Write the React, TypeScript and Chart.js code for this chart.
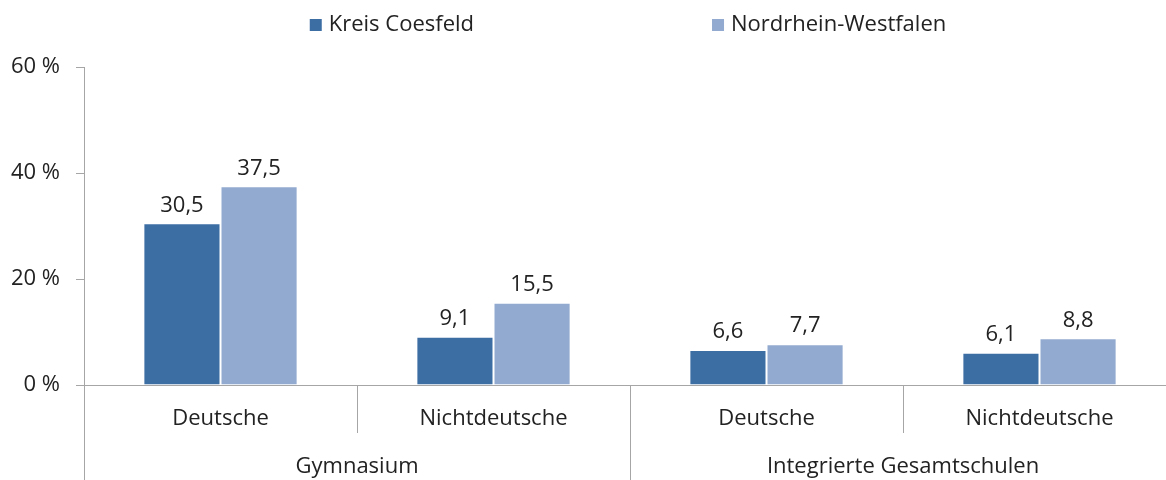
import React, { useEffect, useRef } from "react";
import { Chart, registerables } from "chart.js";

Chart.register(...registerables);

const categories = ["Deutsche", "Nichtdeutsche", "Deutsche", "Nichtdeutsche"];
const groups = ["Gymnasium", "Integrierte Gesamtschulen"];
const seriesNames = ["Kreis Coesfeld", "Nordrhein-Westfalen"];
const kreisValues = [30.5, 9.1, 6.6, 6.1];
const nrwValues = [37.5, 15.5, 7.7, 8.8];
const yTickValues = [0, 20, 40, 60];

const COLORS = ["#3C6EA4", "#92AACF"];
const AXIS = "#A6A6A6";
const TEXT = "#222222";
const FONT = "'Open Sans', sans-serif";
const FS = 22;

const fmt = (v: number) => v.toFixed(1).replace(".", ",");

const customPlugin = {
  id: "custom",
  afterDraw(chart: any) {
    const { ctx, chartArea, scales } = chart;
    const x = scales.x;
    ctx.save();
    ctx.font = `${FS}px ${FONT}`;
    ctx.fillStyle = TEXT;

    // value labels
    chart.data.datasets.forEach((ds: any, di: number) => {
      const meta = chart.getDatasetMeta(di);
      meta.data.forEach((bar: any, i: number) => {
        ctx.textAlign = "center";
        ctx.textBaseline = "middle";
        ctx.fillText(fmt(ds.data[i]), bar.x, bar.y - 18);
      });
    });

    // category labels
    const bottom = chartArea.bottom;
    const n = chart.data.labels.length;
    const step = (chartArea.right - chartArea.left) / n;
    ctx.textAlign = "center";
    ctx.textBaseline = "middle";
    chart.data.labels.forEach((lab: string, i: number) => {
      ctx.fillText(lab, x.getPixelForValue(i), bottom + 34);
    });
    // group labels
    const perGroup = n / groups.length;
    groups.forEach((g, gi) => {
      const left = chartArea.left + gi * perGroup * step;
      const right = left + perGroup * step;
      ctx.fillText(g, (left + right) / 2, bottom + 82);
    });

    // separators
    ctx.strokeStyle = AXIS;
    ctx.lineWidth = 1;
    for (let i = 0; i <= n; i++) {
      const px = Math.round(chartArea.left + i * step) + 0.5;
      const isGroup = i % perGroup === 0;
      ctx.beginPath();
      ctx.moveTo(px, bottom);
      ctx.lineTo(px, isGroup ? chart.height : bottom + 48);
      ctx.stroke();
    }

    // legend
    const box = 12;
    const gapBoxText = 7;
    const gapItems = 238;
    const widths = seriesNames.map((s) => box + gapBoxText + ctx.measureText(s).width);
    const total = widths[0] + gapItems + widths[1];
    let lx = (chartArea.left + chartArea.right) / 2 - 2 - total / 2;
    const ly = 25;
    seriesNames.forEach((s, i) => {
      ctx.fillStyle = COLORS[i];
      ctx.fillRect(lx, ly - box / 2, box, box);
      ctx.fillStyle = TEXT;
      ctx.textAlign = "left";
      ctx.textBaseline = "middle";
      ctx.fillText(s, lx + box + gapBoxText, ly);
      lx += widths[i] + gapItems;
    });
    ctx.restore();
  },
};

export default function App() {
  const ref = useRef<HTMLCanvasElement>(null);
  useEffect(() => {
    if (!ref.current) return;
    const chart = new Chart(ref.current, {
      type: "bar",
      data: {
        labels: categories,
        datasets: [
          {
            label: seriesNames[0],
            data: kreisValues,
            backgroundColor: COLORS[0],
            borderColor: "#ffffff",
            borderWidth: 1,
            categoryPercentage: 0.565,
            barPercentage: 1,
          },
          {
            label: seriesNames[1],
            data: nrwValues,
            backgroundColor: COLORS[1],
            borderColor: "#ffffff",
            borderWidth: 1,
            categoryPercentage: 0.565,
            barPercentage: 1,
          },
        ],
      },
      options: {
        animation: false,
        responsive: false,
        maintainAspectRatio: false,
        layout: { padding: { top: 67, right: 4, left: 0, bottom: 0 } },
        plugins: { legend: { display: false }, tooltip: { enabled: false } },
        scales: {
          x: {
            grid: { display: false },
            border: { display: true, color: AXIS },
            ticks: { display: false },
            afterFit: (s: any) => {
              s.height = 95;
            },
          },
          y: {
            min: 0,
            max: 60,
            afterBuildTicks: (s: any) => {
              s.ticks = yTickValues.map((v) => ({ value: v }));
            },
            ticks: {
              callback: (v: any) => `${v} %`,
              font: { family: FONT, size: FS },
              color: TEXT,
              padding: 16,
            },
            grid: { drawOnChartArea: false, drawTicks: true, tickLength: 8, color: AXIS },
            border: { display: true, color: AXIS },
            afterFit: (s: any) => {
              s.width = 84;
            },
          },
        },
      },
      plugins: [customPlugin],
    });
    return () => chart.destroy();
  }, []);
  return (
    <div style={{ position: "fixed", left: 0, top: 0, width: 1180, height: 480, overflow: "hidden", background: "#fff" }}>
      <canvas ref={ref} width={1180} height={480} />
    </div>
  );
}
